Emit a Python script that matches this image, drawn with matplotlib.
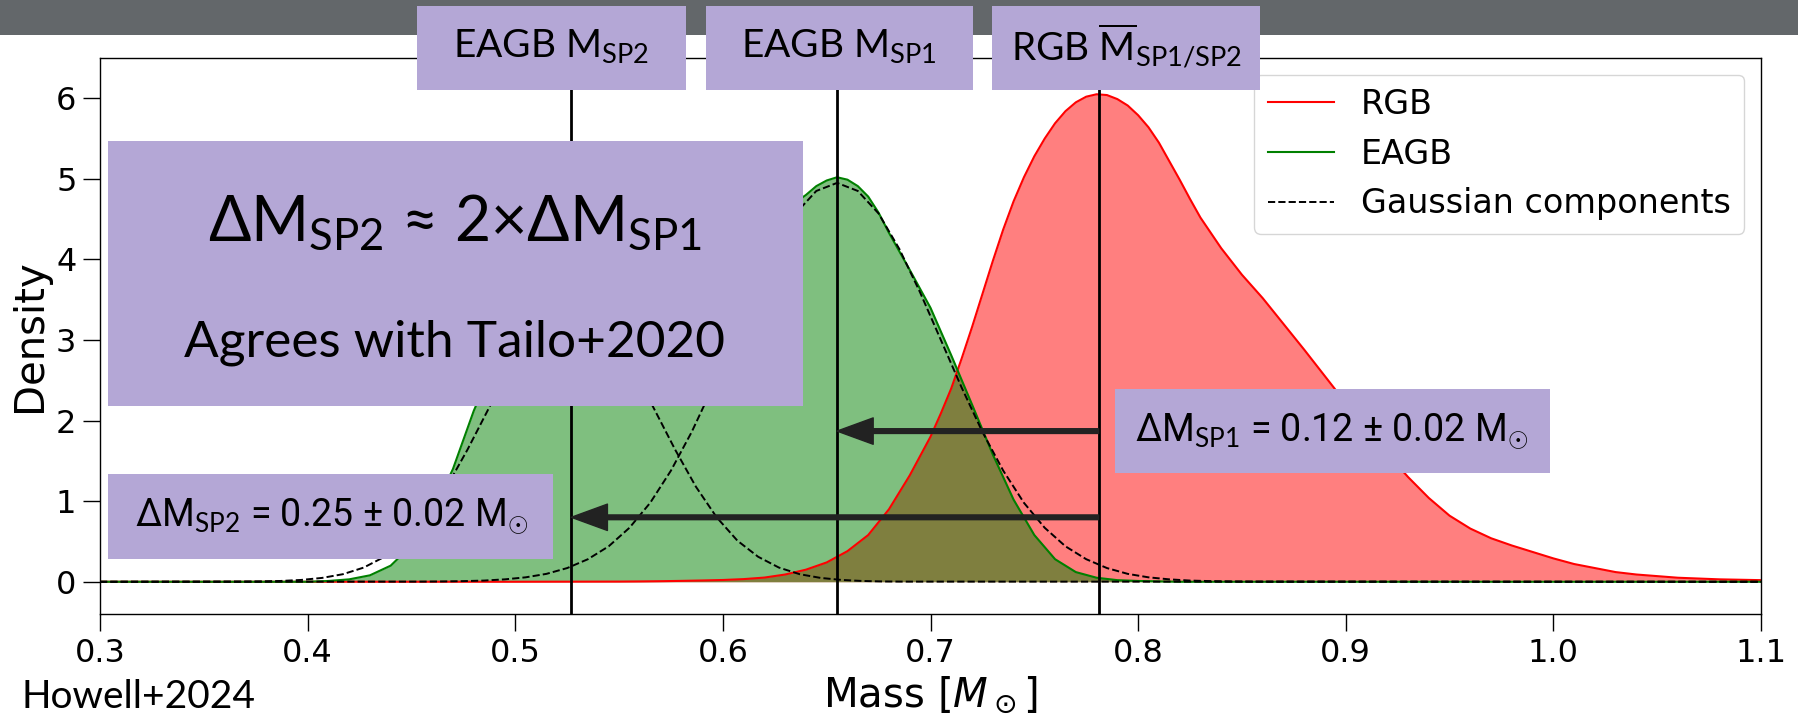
import matplotlib.pyplot as plt
from matplotlib.patches import Rectangle

plt.rcParams["mathtext.fontset"] = "custom"
plt.rcParams["mathtext.rm"] = "Lato"
plt.rcParams["mathtext.it"] = "Lato:italic"
plt.rcParams["mathtext.bf"] = "Lato:bold"

# RGB mass density
rgb_mass = [0.30, 0.50, 0.55, 0.56, 0.57, 0.58, 0.59, 0.60, 0.61, 0.62, 0.63, 0.64,
            0.65, 0.66, 0.67, 0.68, 0.69, 0.70, 0.705, 0.71, 0.715, 0.72, 0.725, 0.73,
            0.735, 0.74, 0.745, 0.75, 0.755, 0.76, 0.765, 0.77, 0.775, 0.78, 0.785,
            0.79, 0.795, 0.80, 0.805, 0.81, 0.815, 0.82, 0.825, 0.83, 0.84, 0.85, 0.86,
            0.87, 0.88, 0.89, 0.90, 0.91, 0.92, 0.93, 0.94, 0.95, 0.96, 0.97, 0.98,
            0.99, 1.00, 1.01, 1.02, 1.03, 1.04, 1.05, 1.06, 1.07, 1.08, 1.09, 1.10]
rgb_density = [0.0, 0.0, 0.002, 0.004, 0.007, 0.011, 0.016, 0.022, 0.033, 0.052, 0.09, 0.15,
               0.24, 0.38, 0.58, 0.90, 1.32, 1.80, 2.09, 2.40, 2.77, 3.16, 3.57, 3.98,
               4.37, 4.72, 5.02, 5.28, 5.50, 5.69, 5.84, 5.95, 6.02, 6.05, 6.04,
               5.99, 5.91, 5.79, 5.64, 5.45, 5.22, 4.99, 4.75, 4.52, 4.14, 3.81, 3.52,
               3.20, 2.88, 2.55, 2.22, 1.90, 1.59, 1.30, 1.04, 0.82, 0.66, 0.54, 0.45,
               0.37, 0.29, 0.22, 0.17, 0.12, 0.09, 0.07, 0.05, 0.04, 0.03, 0.025, 0.02]

# EAGB mass density
eagb_mass = [0.30, 0.40, 0.41, 0.42, 0.43, 0.44, 0.45, 0.46, 0.47, 0.48, 0.49, 0.50,
             0.51, 0.52, 0.53, 0.54, 0.55, 0.56, 0.57, 0.58, 0.59, 0.60, 0.61, 0.62,
             0.63, 0.64, 0.645, 0.65, 0.655, 0.66, 0.665, 0.67, 0.675, 0.68, 0.69, 0.70,
             0.71, 0.72, 0.73, 0.74, 0.75, 0.76, 0.77, 0.78, 0.79, 0.80, 0.82, 1.10]
eagb_density = [0.0, 0.0, 0.01, 0.03, 0.08, 0.20, 0.45, 0.85, 1.40, 2.12, 2.72, 3.12,
                3.38, 3.50, 3.52, 3.47, 3.38, 3.30, 3.27, 3.33, 3.50, 3.76, 4.06, 4.36,
                4.62, 4.80, 4.91, 4.98, 5.02, 4.99, 4.91, 4.78, 4.58, 4.33, 3.87, 3.40,
                2.81, 2.20, 1.58, 1.02, 0.58, 0.28, 0.12, 0.05, 0.02, 0.01, 0.0, 0.0]

# Gaussian components of the EAGB fit
sp2_mass = [0.30, 0.367, 0.377, 0.387, 0.397, 0.407, 0.417, 0.427, 0.437, 0.447, 0.457,
            0.467, 0.477, 0.487, 0.497, 0.507, 0.517, 0.527, 0.537, 0.547, 0.557, 0.567,
            0.577, 0.587, 0.597, 0.607, 0.617, 0.627, 0.637, 0.647, 0.657, 0.667, 0.677,
            0.687, 1.10]
sp2_density = [0.0, 0.002, 0.004, 0.010, 0.023, 0.048, 0.094, 0.176, 0.31, 0.51, 0.80,
               1.18, 1.64, 2.14, 2.64, 3.06, 3.35, 3.45, 3.35, 3.06, 2.64, 2.14,
               1.64, 1.18, 0.80, 0.51, 0.31, 0.176, 0.094, 0.048, 0.023, 0.010, 0.004,
               0.002, 0.0]
sp1_mass = [0.30, 0.455, 0.465, 0.475, 0.485, 0.495, 0.505, 0.515, 0.525, 0.535, 0.545,
            0.555, 0.565, 0.575, 0.585, 0.595, 0.605, 0.615, 0.625, 0.635, 0.645, 0.655,
            0.665, 0.675, 0.685, 0.695, 0.705, 0.715, 0.725, 0.735, 0.745, 0.755, 0.765,
            0.775, 0.785, 0.795, 0.805, 0.815, 0.825, 0.835, 0.845, 0.855, 1.10]
sp1_density = [0.0, 0.002, 0.004, 0.008, 0.015, 0.030, 0.055, 0.098, 0.17, 0.28, 0.44,
               0.67, 0.98, 1.38, 1.86, 2.41, 3.00, 3.59, 4.13, 4.57, 4.85, 4.95,
               4.85, 4.57, 4.13, 3.59, 3.00, 2.41, 1.86, 1.38, 0.98, 0.67, 0.44,
               0.28, 0.17, 0.098, 0.055, 0.030, 0.015, 0.008, 0.004, 0.002, 0.0]

# component means: EAGB SP2, EAGB SP1, RGB
mean_masses = [0.527, 0.655, 0.781]
arrow_levels = [1.87, 0.80]

W, H = 1799, 721
fig = plt.figure(figsize=(W / 100, H / 100), dpi=100)
ax = fig.add_axes([100 / W, 1 - 614 / H, (1761 - 100) / W, (614 - 58) / H])

ax.fill_between(rgb_mass, rgb_density, color="red", alpha=0.5, lw=0, zorder=1)
ax.fill_between(eagb_mass, eagb_density, color="green", alpha=0.5, lw=0, zorder=1)
ax.plot(rgb_mass, rgb_density, color="red", lw=1.5, label="RGB", zorder=2)
ax.plot(eagb_mass, eagb_density, color="green", lw=1.5, label="EAGB", zorder=2)
ax.plot(sp2_mass, sp2_density, color="black", ls="--", lw=1.4,
        label="Gaussian components", zorder=2)
ax.plot(sp1_mass, sp1_density, color="black", ls="--", lw=1.4, zorder=2)

for m in mean_masses:
    ax.axvline(m, color="black", lw=2, zorder=3)

arrow_style = dict(facecolor="#222222", edgecolor="#222222", width=3.4,
                   headwidth=19, headlength=26, shrink=0)
ax.annotate("", xy=(mean_masses[1], arrow_levels[0]),
            xytext=(mean_masses[2], arrow_levels[0]), arrowprops=arrow_style, zorder=4)
ax.annotate("", xy=(mean_masses[0], arrow_levels[1]),
            xytext=(mean_masses[2], arrow_levels[1]), arrowprops=arrow_style, zorder=4)

ax.set_xlim(0.3, 1.1)
ax.set_ylim(-0.4, 6.5)
ax.set_xticks([0.3, 0.4, 0.5, 0.6, 0.7, 0.8, 0.9, 1.0, 1.1])
ax.set_yticks([0, 1, 2, 3, 4, 5, 6])
ax.tick_params(labelsize=23, length=12, width=1, pad=5)
for s in ax.spines.values():
    s.set_linewidth(1)
ax.set_xlabel(r"Mass [$M_\odot$]", fontsize=29, math_fontfamily="dejavusans", labelpad=4)
ax.set_ylabel("Density", fontsize=29, labelpad=4)
ax.legend(loc="upper right", fontsize=24)


def box(x0, y0, x1, y1, color="#b4a7d6"):
    fig.add_artist(Rectangle((x0 / W, 1 - y1 / H), (x1 - x0) / W, (y1 - y0) / H,
                             transform=fig.transFigure, facecolor=color,
                             edgecolor="none", zorder=5))


def label(x, y, s, size, family="Lato", ha="center"):
    fig.text(x / W, 1 - y / H, s, fontsize=size, family=family, ha=ha, va="center",
             zorder=6)


# header bar and labels
box(0, 0, W, 35, color="#63676a")
box(417, 6, 686, 90)
box(706, 6, 973, 90)
box(992, 6, 1260, 90)
label(551, 46, r"EAGB M$_{\mathrm{SP2}}$", 28)
label(839, 46, r"EAGB M$_{\mathrm{SP1}}$", 28)
label(1126, 46, r"RGB $\overline{\mathrm{M}}_{\mathrm{SP1/SP2}}$", 28)

box(108, 141, 803, 406)
label(455, 222, r"$\Delta$M$_{\mathrm{SP2}}$ ≈ 2×$\Delta$M$_{\mathrm{SP1}}$", 45)
label(455, 343, "Agrees with Tailo+2020", 37)

box(1115, 389, 1550, 473)
label(1332, 431, r"ΔM$_{\mathrm{SP1}}$ = 0.12 ± 0.02 M$_{\odot}$", 27, family="Roboto")
box(108, 474, 553, 559)
label(332, 516, r"ΔM$_{\mathrm{SP2}}$ = 0.25 ± 0.02 M$_{\odot}$", 27, family="Roboto")

label(22, 697, "Howell+2024", 28, ha="left")

fig.savefig("out.png", dpi=100)
